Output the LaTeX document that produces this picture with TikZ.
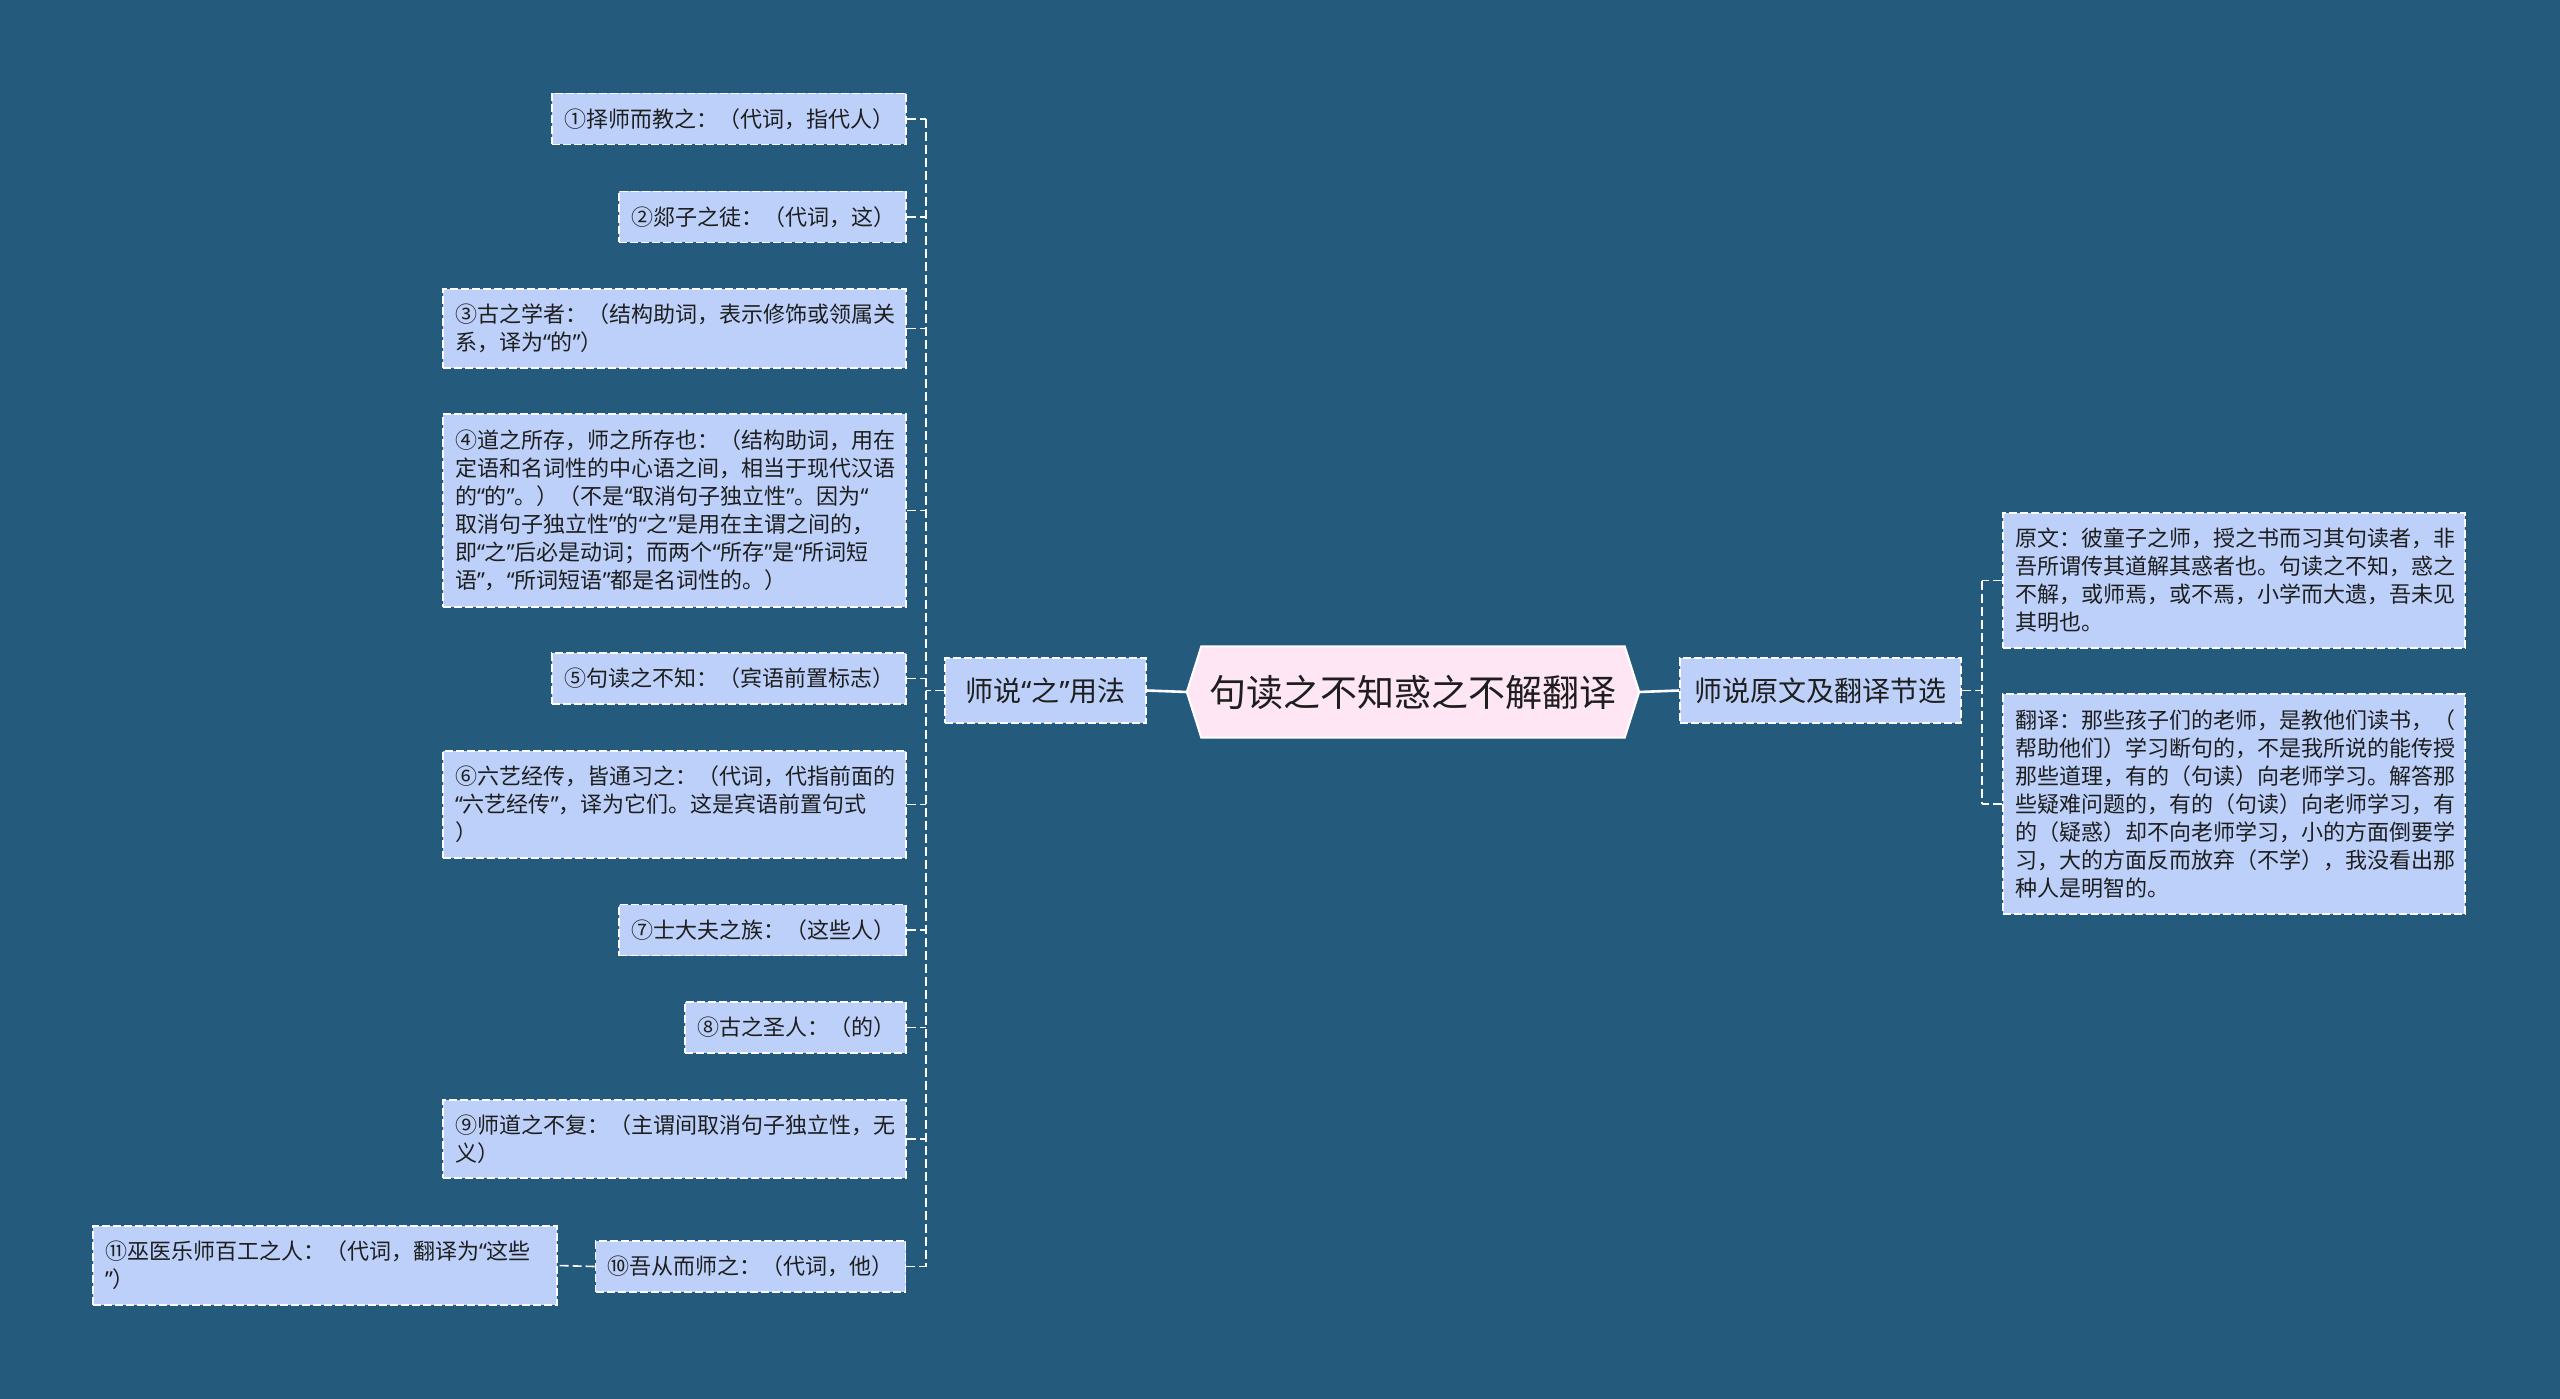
\documentclass[tikz,border=0pt]{standalone}
\usepackage{fontspec}
\newfontfamily\cjk{Noto Sans CJK SC}
\newfontfamily\latq{Noto Sans}
\newcommand\myql{{\latq “}}
\newcommand\myqr{{\latq ”}}
\usetikzlibrary{calc}
\pgfdeclarelayer{back}
\pgfsetlayers{back,main}
\definecolor{bgc}{HTML}{245A7C}
\definecolor{leaf}{HTML}{BCD0F9}
\definecolor{ctr}{HTML}{FFE6F5}
\definecolor{ink}{HTML}{1E1E1E}
\begin{document}
\begin{tikzpicture}[x=1pt,y=-1pt,
  leafbox/.style={draw=white, line width=1.6pt, dash pattern=on 8pt off 3pt, fill=leaf, text=ink,
    font=\cjk\fontsize{22}{28}\selectfont, align=left, inner xsep=12pt, inner ysep=0pt, minimum height=51pt},
  midbox/.style={draw=white, line width=1.6pt, dash pattern=on 8pt off 3pt, fill=leaf, text=ink,
    font=\cjk\fontsize{28}{34}\selectfont, inner xsep=14pt, inner ysep=0pt, minimum height=65pt},
  conn/.style={draw=white, line width=1.6pt, dash pattern=on 9pt off 4pt},
  solidconn/.style={draw=white, line width=2.6pt}]
\begin{pgfonlayer}{back}
\fill[bgc] (0,0) rectangle (2560,1399);
\end{pgfonlayer}
\useasboundingbox (0,0) rectangle (2560,1399);

% centre
\node[font=\cjk\fontsize{37}{44}\selectfont, text=ink, minimum width=423pt, minimum height=91pt, inner sep=0pt] (c) at (1413,692) {句读之不知惑之不解翻译};
\coordinate (cL) at ($(c.west)+(-14.5pt,0pt)$);
\coordinate (cR) at ($(c.east)+(14.5pt,0pt)$);
\begin{pgfonlayer}{back}
\filldraw[fill=ctr, draw=white, line width=2pt] (c.north west) -- (c.north east) -- (cR) -- (c.south east) -- (c.south west) -- (cL) -- cycle;
\end{pgfonlayer}

% mid nodes
\node[midbox, minimum width=201pt] (m1) at (1045.5,690.5) {师说\myql 之\myqr 用法};
\node[midbox, minimum width=281pt] (m2) at (1820.5,690.5) {师说原文及翻译节选};

% left leaves
\node[leafbox, text width=330pt] (n1) at (729,119) {①择师而教之：（代词，指代人）};
\node[leafbox, text width=263pt] (n2) at (762.5,217) {②郯子之徒：（代词，这）};
\node[leafbox, text width=439pt, minimum height=79pt] (n3) at (674.5,328.5) {③古之学者：（结构助词，表示修饰或领属关\\系，译为\myql 的\myqr ）};
\node[leafbox, text width=439pt, minimum height=193pt] (n4) at (674.5,510.5) {④道之所存，师之所存也：（结构助词，用在\\定语和名词性的中心语之间，相当于现代汉语\\的\myql 的\myqr 。）（不是\myql 取消句子独立性\myqr 。因为\myql\\取消句子独立性\myqr 的\myql 之\myqr 是用在主谓之间的，\\即\myql 之\myqr 后必是动词；而两个\myql 所存\myqr 是\myql 所词短\\语\myqr ，\myql 所词短语\myqr 都是名词性的。）};
\node[leafbox, text width=330pt] (n5) at (729,678.5) {⑤句读之不知：（宾语前置标志）};
\node[leafbox, text width=439pt, minimum height=107pt] (n6) at (674.5,804.5) {⑥六艺经传，皆通习之：（代词，代指前面的\\\myql 六艺经传\myqr ，译为它们。这是宾语前置句式\\）};
\node[leafbox, text width=263pt] (n7) at (762.5,930) {⑦士大夫之族：（这些人）};
\node[leafbox, text width=197pt] (n8) at (795.5,1027.5) {⑧古之圣人：（的）};
\node[leafbox, text width=439pt, minimum height=78pt] (n9) at (674.5,1139) {⑨师道之不复：（主谓间取消句子独立性，无\\义）};
\node[leafbox, text width=286pt] (n10) at (750.5,1266.5) {⑩吾从而师之：（代词，他）};
\node[leafbox, text width=440pt, minimum height=79pt] (n11) at (325,1265.5) {⑪巫医乐师百工之人：（代词，翻译为\myql 这些\\\myqr ）};

% right leaves
\node[leafbox, text width=438pt, minimum height=135pt] (r1) at (2234,580.5) {原文：彼童子之师，授之书而习其句读者，非\\吾所谓传其道解其惑者也。句读之不知，惑之\\不解，或师焉，或不焉，小学而大遗，吾未见\\其明也。};
\node[leafbox, text width=438pt, minimum height=220pt] (r2) at (2234,804) {翻译：那些孩子们的老师，是教他们读书，（\\帮助他们）学习断句的，不是我所说的能传授\\那些道理，有的（句读）向老师学习。解答那\\些疑难问题的，有的（句读）向老师学习，有\\的（疑惑）却不向老师学习，小的方面倒要学\\习，大的方面反而放弃（不学），我没看出那\\种人是明智的。};

% spines
\coordinate (sL) at (926,692);
\coordinate (sR) at (1982,692);

% connectors
\draw[solidconn] (cL) -- (m1.east);
\draw[solidconn] (cR) -- (m2.west);
\draw[conn] (n1.east -| sL) -- (n10.east -| sL);
\foreach \i in {1,...,10} {\draw[conn] (n\i.east) -- (n\i.east -| sL);}
\draw[conn] (m1.west) -- (m1.west -| sL);
\draw[conn] (n10.west) -- (n11.east);
\draw[conn] (m2.east) -- (m2.east -| sR);
\draw[conn] (r1.west -| sR) -- (r2.west -| sR);
\draw[conn] (r1.west) -- (r1.west -| sR);
\draw[conn] (r2.west) -- (r2.west -| sR);
\end{tikzpicture}
\end{document}
